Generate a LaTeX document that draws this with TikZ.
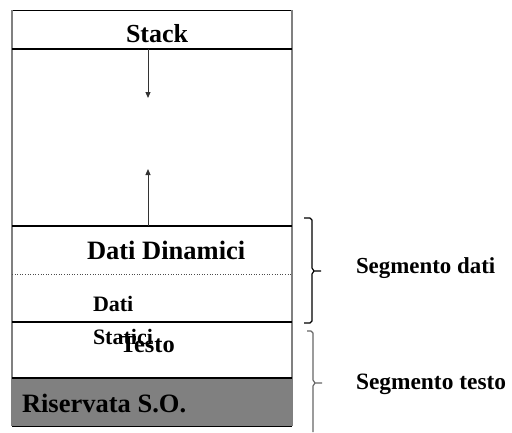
\documentclass[tikz,border=0pt]{standalone}
\usepackage{fontspec}
\setmainfont{Liberation Serif}
\usetikzlibrary{arrows.meta}
\tikzset{
  lbl/.style={anchor=base west, inner sep=0pt, outer sep=0pt, font=\bfseries},
  sepline/.style={line width=2pt, black},
  sideline/.style={line width=1.5pt, gray},
  growarrow/.style={line width=1pt, black!80, -{Triangle[length=6pt,width=5pt]}},
  bracel/.style={line width=1.2pt, line join=round}
}
\newcommand{\fs}[1]{\fontsize{#1}{#1}\selectfont}
\begin{document}
\begin{tikzpicture}[x=1pt,y=-1pt]
\useasboundingbox (0,0) rectangle (512,432);
% key coordinates
\coordinate (tl) at (12,10);
\coordinate (tr) at (292,10);
\coordinate (sl) at (12,49);
\coordinate (sr) at (292,49);
\coordinate (hl) at (12,226);
\coordinate (hr) at (292,226);
\coordinate (dl) at (12,274);
\coordinate (dr) at (292,274);
\coordinate (el) at (12,322);
\coordinate (er) at (292,322);
\coordinate (rl) at (12,378);
\coordinate (rr) at (292,378);
\coordinate (bl) at (12,426);
\coordinate (br) at (292,426);
\coordinate (a1s) at (148,49);
\coordinate (a1e) at (148,98);
\coordinate (a2s) at (148,226);
\coordinate (a2e) at (148,169);
% reserved area
\fill[fill=gray!100!black, fill opacity=1, color={rgb,255:red,128;green,128;blue,128}] (rl) rectangle (br);
% texts
\node[lbl, font=\bfseries\fs{26}] (stack) at (126,42) {Stack};
\node[lbl, font=\bfseries\fs{26.5}] (dyn) at (87,259) {Dati Dinamici};
\node[lbl, font=\bfseries\fs{22}] (dati) at (93,311) {Dati};
\node[lbl, font=\bfseries\fs{22}] (stat) at (93,344) {Statici};
\node[lbl, font=\bfseries\fs{24.4}] (testo) at (120,352) {Testo};
\node[lbl, font=\bfseries\fs{26.5}] (ris) at (22,412) {Riservata S.O.};
\node[lbl, font=\bfseries\fs{22.9}] (segd) at (356,273) {Segmento dati};
\node[lbl, font=\bfseries\fs{23.4}] (segt) at (356,389) {Segmento testo};
% box
\draw[line width=1pt, black] (tl) -- (tr);
\draw[sideline] (tl) -- (bl);
\draw[sideline] (tr) -- (br);
\draw[line width=1pt, black] (bl) -- (br);
\draw[sepline] (sl) -- (sr);
\draw[sepline] (hl) -- (hr);
\draw[line width=0.6pt, dotted, black!70] (dl) -- (dr);
\draw[sepline] (el) -- (er);
\draw[sepline] (rl) -- (rr);
% growth arrows
\draw[growarrow] (a1s) -- (a1e);
\draw[growarrow] (a2s) -- (a2e);
% braces
\coordinate (b1t) at (304,218);
\coordinate (b1m) at (321,271);
\coordinate (b1b) at (304,323);
\draw[bracel, black] (b1t) -- (310,218) -- (312,220) -- (312,268) -- (314,271) -- (b1m);
\draw[bracel, black] (314,271) -- (312,274) -- (312,321) -- (310,323) -- (b1b);
\coordinate (b2t) at (307,331);
\coordinate (b2m) at (322,383);
\coordinate (b2b) at (313,432);
\draw[bracel, black!60] (b2t) -- (311,331) -- (313,333) -- (313,380) -- (315,383) -- (b2m);
\draw[bracel, black!60] (315,383) -- (313,386) -- (b2b);
\end{tikzpicture}
\end{document}
